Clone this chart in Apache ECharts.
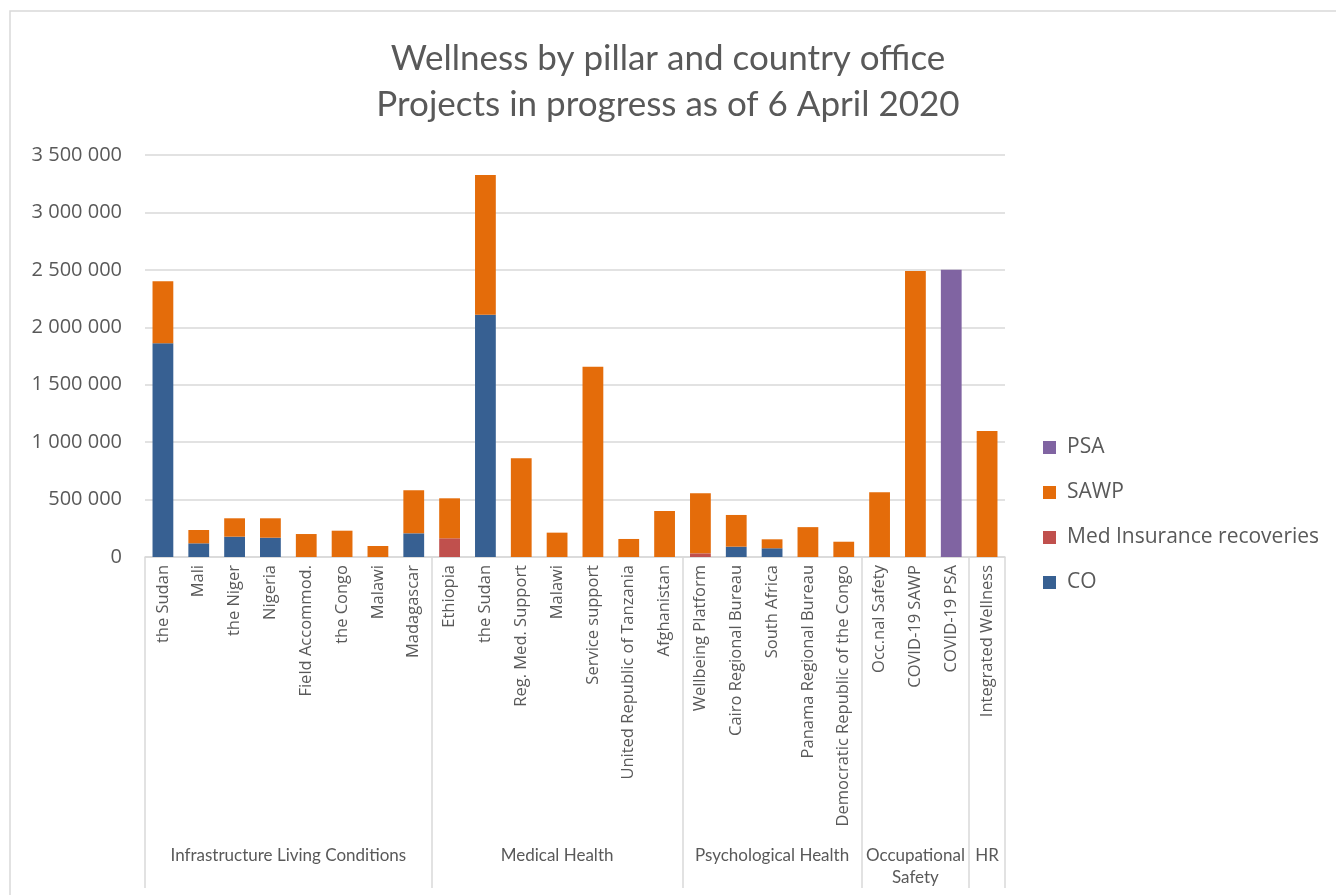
<!DOCTYPE html>
<html>
<head>
<meta charset="utf-8">
<title>Wellness by pillar and country office</title>
<script src="https://cdn.jsdelivr.net/npm/echarts@6/dist/echarts.min.js"></script>
<style>
  html, body { margin: 0; padding: 0; background: #fff; }
  #chart { width: 1336px; height: 895px; }
</style>
</head>
<body>
<div id="chart"></div>
<script>
// categories (country office / project), left to right
const categories = [
  'the Sudan', 'Mali', 'the Niger', 'Nigeria', 'Field Accommod.', 'the Congo', 'Malawi', 'Madagascar',
  'Ethiopia', 'the Sudan', 'Reg. Med. Support', 'Malawi', 'Service support', 'United Republic of Tanzania', 'Afghanistan',
  'Wellbeing Platform', 'Cairo Regional Bureau', 'South Africa', 'Panama Regional Bureau', 'Democratic Republic of the Congo',
  'Occ.nal Safety', 'COVID-19 SAWP', 'COVID-19 PSA',
  'Integrated Wellness'
];

// pillars and how many categories each one covers
const groupNames = ['Infrastructure Living Conditions', 'Medical Health', 'Psychological Health', 'Occupational\nSafety', 'HR'];
const groupSizes = [8, 7, 5, 3, 1];

// series values
const coValues   = [1860000, 119000, 177000, 168000, 0, 0, 0, 206000,
                    0, 2110000, 0, 0, 0, 0, 0,
                    0, 90000, 76000, 0, 0,
                    0, 0, 0,
                    0];
const medValues  = [0, 0, 0, 0, 0, 0, 0, 0,
                    163000, 0, 0, 0, 0, 0, 0,
                    32000, 0, 0, 0, 0,
                    0, 0, 0,
                    0];
const sawpValues = [540000, 116000, 160000, 169000, 200000, 229000, 96000, 375000,
                    348000, 1216000, 859000, 212000, 1657000, 157000, 400000,
                    523000, 276000, 78000, 260000, 133000,
                    563000, 2490000, 0,
                    1097000];
const psaValues  = [0, 0, 0, 0, 0, 0, 0, 0,
                    0, 0, 0, 0, 0, 0, 0,
                    0, 0, 0, 0, 0,
                    0, 0, 2500000,
                    0];

const yTicks = { min: 0, max: 3500000, interval: 500000 };

// group boundaries and label centres on a 0..24 value axis under the categories
const bounds = [0];
groupSizes.forEach(n => bounds.push(bounds[bounds.length - 1] + n));
const mids = groupSizes.map((n, i) => bounds[i] + n / 2);
const midName = {};
mids.forEach((m, i) => { midName[m] = groupNames[i]; });

const nz = arr => arr.map(v => (v === 0 ? '-' : v));
const fmt = v => String(v).replace(/\B(?=(\d{3})+(?!\d))/g, ' ');

const textColor = '#595959';
const gridColor = '#d9d9d9';
const narrow = 'Lato, "Open Sans", sans-serif';
const wide = '"Open Sans", Lato, sans-serif';

const chart = echarts.init(document.getElementById('chart'));

const option = {
  animation: false,
  backgroundColor: '#fff',
  textStyle: { fontFamily: wide },
  title: {
    text: 'Wellness by pillar and country office\nProjects in progress as of 6 April 2020',
    left: 'center',
    top: 31,
    textStyle: { fontFamily: narrow, fontSize: 35, fontWeight: 'normal', color: textColor, lineHeight: 46 }
  },
  graphic: [{
    type: 'rect',
    shape: { x: 10, y: 11, width: 1400, height: 1000 },
    style: { fill: 'none', stroke: gridColor, lineWidth: 1.5 },
    silent: true
  }],
  legend: {
    orient: 'vertical',
    left: 1038,
    top: 429,
    itemWidth: 13,
    itemHeight: 13,
    itemGap: 18,
    icon: 'rect',
    data: ['PSA', 'SAWP', 'Med Insurance recoveries', 'CO'],
    textStyle: { color: textColor, fontSize: 21, fontFamily: wide, lineHeight: 27, padding: [0, 0, 0, 6] }
  },
  grid: { left: 145, right: 331, top: 155, bottom: 338, containLabel: false },
  xAxis: [{
    type: 'category',
    data: categories,
    axisLine: { show: true, lineStyle: { color: gridColor, width: 1.5 } },
    axisTick: { show: false },
    axisLabel: { rotate: 90, interval: 0, margin: 8, color: textColor, fontSize: 16.5, fontFamily: wide }
  }, {
    type: 'value',
    min: 0,
    max: categories.length,
    position: 'bottom',
    axisLine: { show: false },
    splitLine: { show: false },
    axisTick: { show: true, customValues: bounds, length: 331, lineStyle: { color: gridColor, width: 1.5 } },
    axisLabel: {
      customValues: mids,
      formatter: v => midName[v] || '',
      margin: 288,
      verticalAlign: 'top',
      lineHeight: 22,
      color: textColor,
      fontSize: 17,
      fontFamily: narrow
    }
  }],
  yAxis: {
    type: 'value',
    min: yTicks.min,
    max: yTicks.max,
    interval: yTicks.interval,
    axisLine: { show: false },
    axisTick: { show: false },
    splitLine: { lineStyle: { color: gridColor, width: 1.5 } },
    axisLabel: { formatter: fmt, margin: 23, color: textColor, fontSize: 20, fontFamily: wide }
  },
  series: [
    { name: 'CO', type: 'bar', stack: 'total', barWidth: '58%', data: nz(coValues), itemStyle: { color: '#376092' } },
    { name: 'Med Insurance recoveries', type: 'bar', stack: 'total', data: nz(medValues), itemStyle: { color: '#c0504d' } },
    { name: 'SAWP', type: 'bar', stack: 'total', data: nz(sawpValues), itemStyle: { color: '#e46c0a' } },
    { name: 'PSA', type: 'bar', stack: 'total', data: nz(psaValues), itemStyle: { color: '#8064a2' } }
  ]
};

chart.setOption(option);
</script>
</body>
</html>
